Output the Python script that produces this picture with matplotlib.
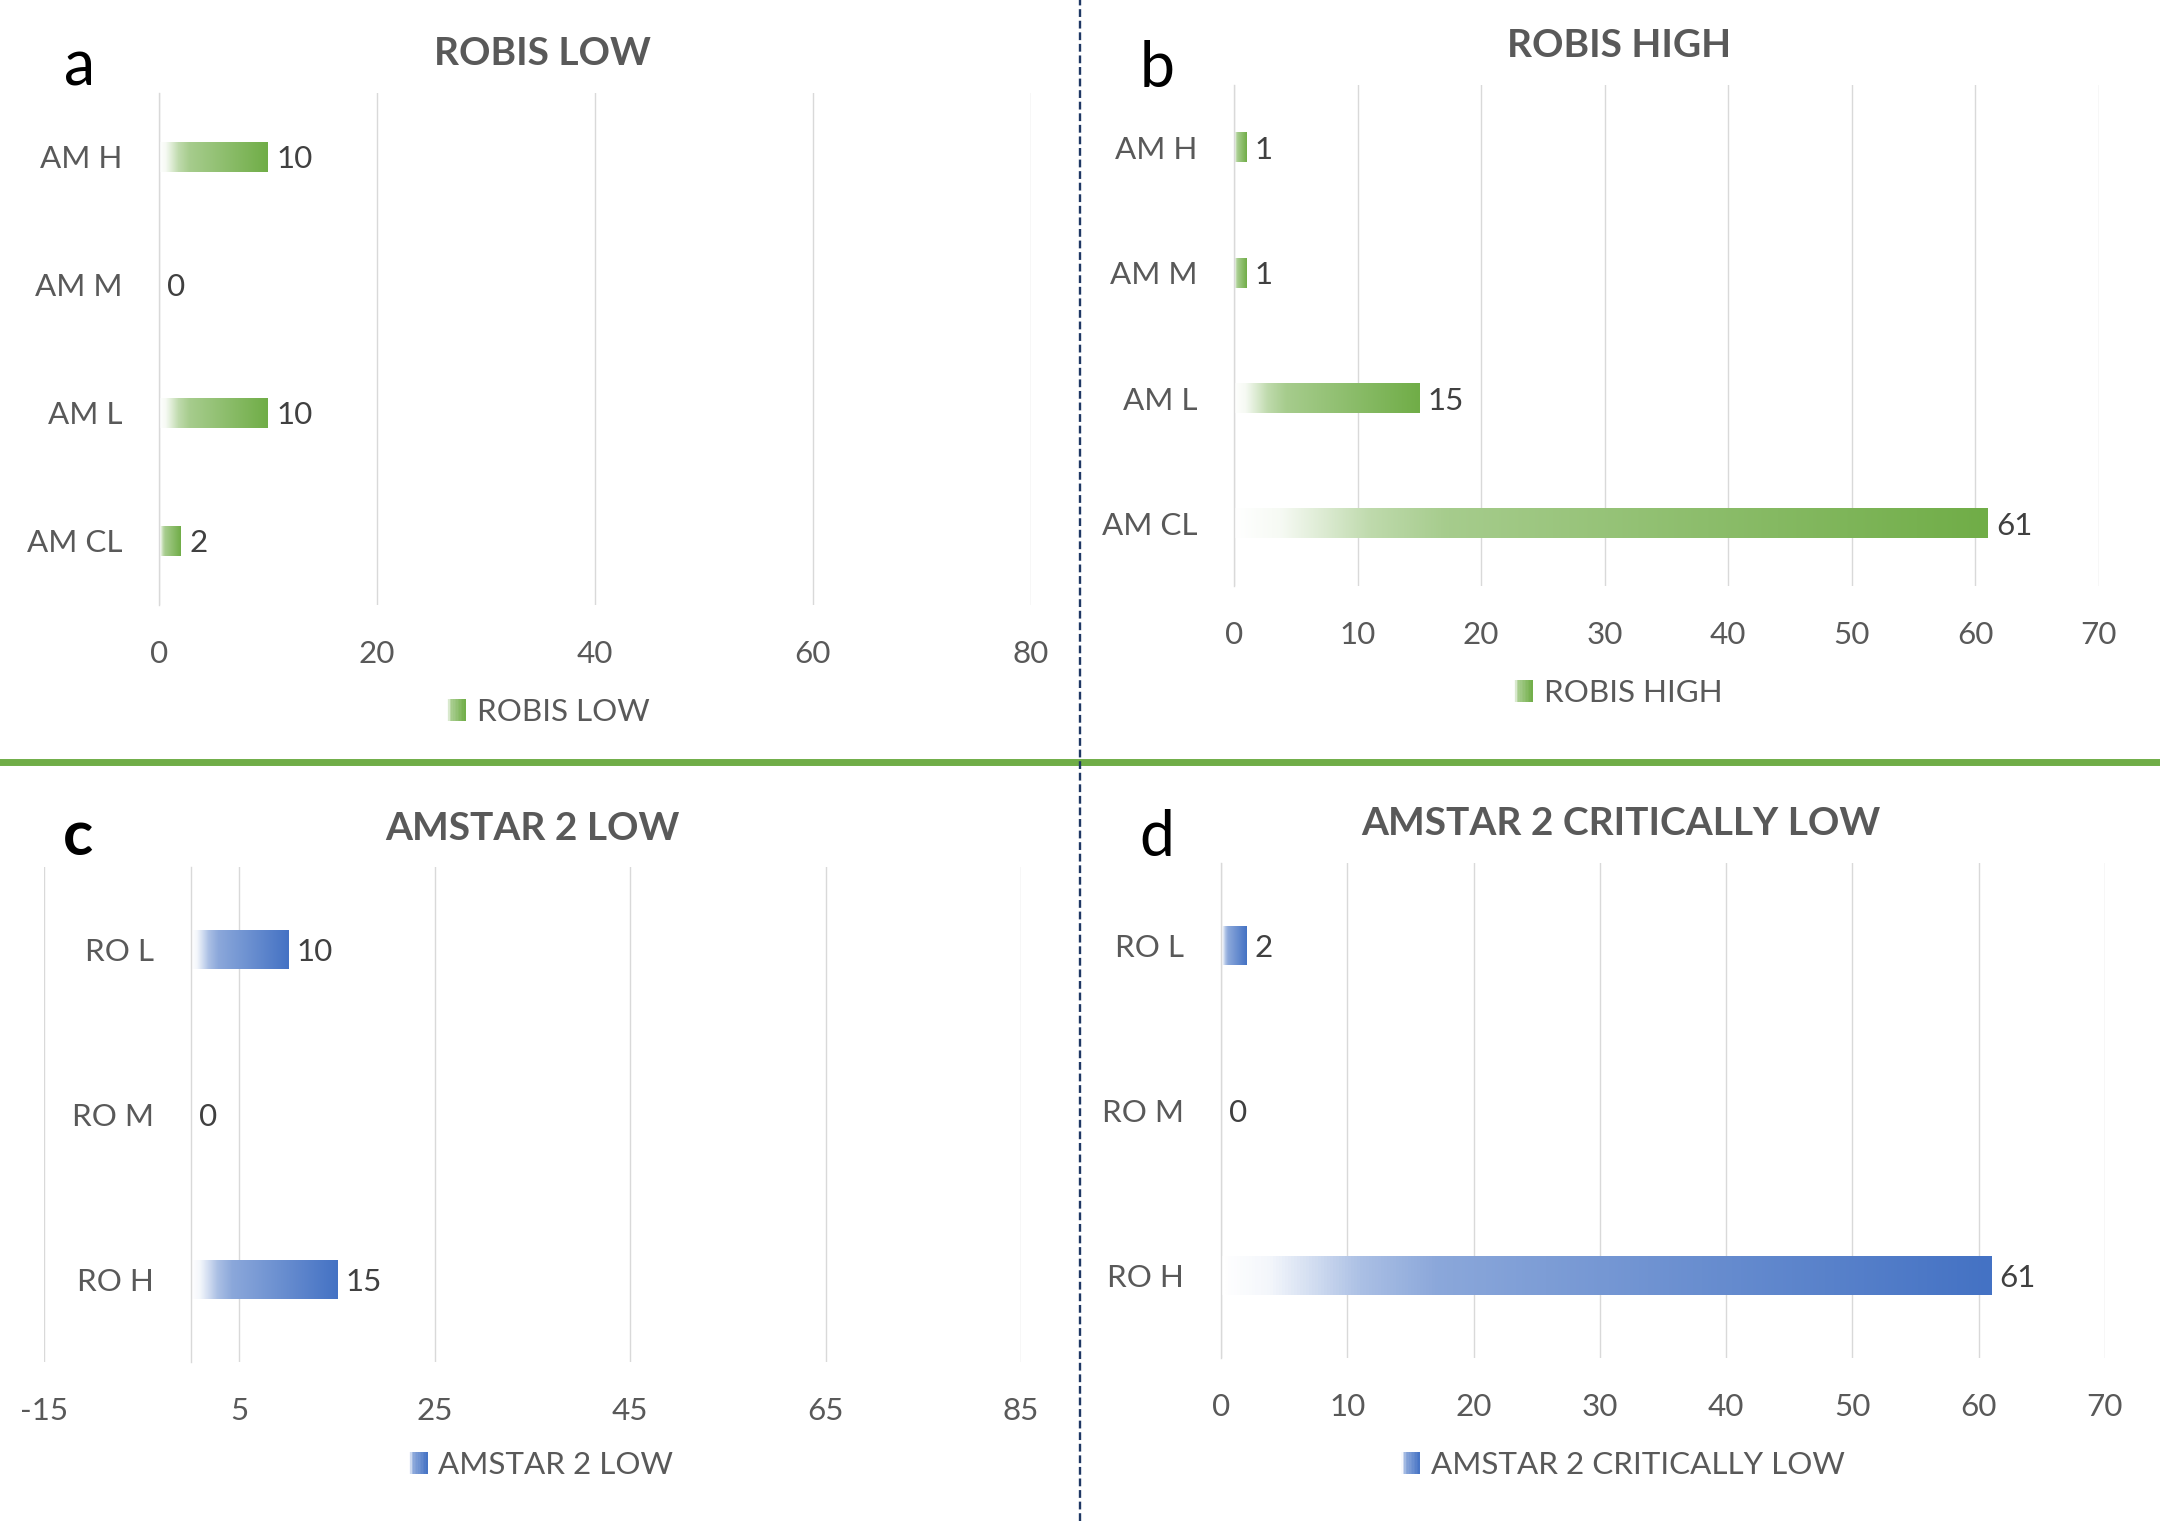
import numpy as np
import matplotlib
matplotlib.use('Agg')
import matplotlib.pyplot as plt
import matplotlib.colors as mcolors
from matplotlib.legend_handler import HandlerBase
from matplotlib.patches import Rectangle
from matplotlib.lines import Line2D

plt.rcParams['font.family'] = ['Lato', 'DejaVu Sans']
plt.rcParams['axes.unicode_minus'] = False

# data
robis_low_cats = ['AM H', 'AM M', 'AM L', 'AM CL']
robis_low_vals = [10, 0, 10, 2]
robis_high_cats = ['AM H', 'AM M', 'AM L', 'AM CL']
robis_high_vals = [1, 1, 15, 61]
amstar_low_cats = ['RO L', 'RO M', 'RO H']
amstar_low_vals = [10, 0, 15]
amstar_cl_cats = ['RO L', 'RO M', 'RO H']
amstar_cl_vals = [2, 0, 61]

GREEN = '#70AD47'
BLUE = '#4472C4'
TEXT = '#595959'
LABEL = '#404040'
GRID = '#D9D9D9'
FS = 22.6

W, H = 2160, 1521
fig = plt.figure(figsize=(W / 100, H / 100), dpi=100)


def box(x0, y0, x1, y1):
    # pixel box (top-left origin) -> figure fraction rect
    return [x0 / W, 1 - y1 / H, (x1 - x0) / W, (y1 - y0) / H]


def gradient_cmap(color):
    rgb = np.array(mcolors.to_rgb(color))
    white = np.ones(3)
    stops = [(0.0, 0.0), (0.06, 0.06), (0.12, 0.25), (0.18, 0.45),
             (0.28, 0.62), (1.0, 1.0)]
    return mcolors.LinearSegmentedColormap.from_list(
        'grad', [(p, white * (1 - t) + rgb * t) for p, t in stops])


class GradientHandler(HandlerBase):
    def __init__(self, cmap):
        super().__init__()
        self.cmap = cmap

    def create_artists(self, legend, orig_handle, xdescent, ydescent,
                       width, height, fontsize, trans):
        n = 12
        out = []
        for i in range(n):
            r = Rectangle((-xdescent + i * width / n, -ydescent), width / n + 0.3,
                          height, facecolor=self.cmap((i + 0.5) / n),
                          edgecolor='none', transform=trans)
            out.append(r)
        return out


def panel(rect, cats, vals, color, xlim, step, title,
          title_xy, letter, letter_xy, letter_bold, legend_xy):
    ax = fig.add_axes(rect)
    cmap = gradient_cmap(color)
    y = np.arange(len(cats))
    bars = ax.barh(y, vals, height=0.234, color='none', edgecolor='none', zorder=2)
    grad = np.linspace(0, 1, 256).reshape(1, -1)
    for b in bars:
        if b.get_width() > 0:
            ax.imshow(grad, cmap=cmap, aspect='auto', interpolation='bilinear',
                      extent=[b.get_x(), b.get_x() + b.get_width(),
                              b.get_y() + b.get_height(), b.get_y()], zorder=2)
    labels = ax.bar_label(bars, padding=6, fontsize=FS, color=LABEL)
    for t in labels:
        t.set_va('center_baseline')

    ax.set_xlim(*xlim)
    ax.set_ylim(len(cats) - 0.5, -0.5)
    ax.set_xticks(np.arange(xlim[0], xlim[1] + 0.1, step))
    ax.set_yticks(y, cats)
    ax.grid(axis='x', color=GRID, lw=1.0)
    ax.set_axisbelow(True)
    for s in ['top', 'right', 'bottom']:
        ax.spines[s].set_visible(False)
    ax.spines['left'].set_position(('data', 0))
    ax.spines['left'].set_color(GRID)
    ax.spines['left'].set_linewidth(1.0)
    ax.tick_params(axis='both', length=0, labelsize=FS, labelcolor=TEXT)
    ax.tick_params(axis='x', pad=25.5)
    ax.tick_params(axis='y', pad=26.5)

    fig.text(title_xy[0] / W, 1 - title_xy[1] / H, title, ha='center',
             va='baseline', fontsize=28, fontweight='bold', color=TEXT)
    fig.text(letter_xy[0] / W, 1 - letter_xy[1] / H, letter, ha='center',
             va='baseline', fontsize=45, color='black',
             fontweight='bold' if letter_bold else 'normal')

    proxy = Rectangle((0, 0), 1, 1)
    fig.legend([proxy], [title], loc='center',
               bbox_to_anchor=(legend_xy[0] / W, 1 - legend_xy[1] / H),
               frameon=False, fontsize=FS, labelcolor=TEXT,
               handlelength=0.6, handleheight=0.7, handletextpad=0.35,
               handler_map={proxy: GradientHandler(cmap)})
    return ax


panel(box(159, 93, 1031, 605), robis_low_cats, robis_low_vals, GREEN,
      (0, 80), 20, 'ROBIS LOW', (542, 65), 'a', (80, 85), False, (548, 712))
panel(box(1234, 85, 2099, 586), robis_high_cats, robis_high_vals, GREEN,
      (0, 70), 10, 'ROBIS HIGH', (1619, 57), 'b', (1157, 87), False, (1618, 693))
panel(box(44, 867, 1021, 1362), amstar_low_cats, amstar_low_vals, BLUE,
      (-15, 85), 20, 'AMSTAR 2 LOW', (532, 840), 'c', (78, 855), True, (541, 1465))
panel(box(1221, 863, 2105, 1358), amstar_cl_cats, amstar_cl_vals, BLUE,
      (0, 70), 10, 'AMSTAR 2 CRITICALLY LOW', (1621, 835), 'd', (1157, 856), False,
      (1623, 1465))

# separators between the panels
fig.add_artist(Line2D([0, 1], [1 - 762 / H] * 2, transform=fig.transFigure,
                      color=GREEN, lw=5, zorder=5))
fig.add_artist(Line2D([1080 / W] * 2, [0, 1], transform=fig.transFigure,
                      color='#1F3864', lw=1.7, linestyle=(0, (3.3, 1.6)), zorder=6))

fig.savefig('out.png', dpi=100, facecolor='white')
